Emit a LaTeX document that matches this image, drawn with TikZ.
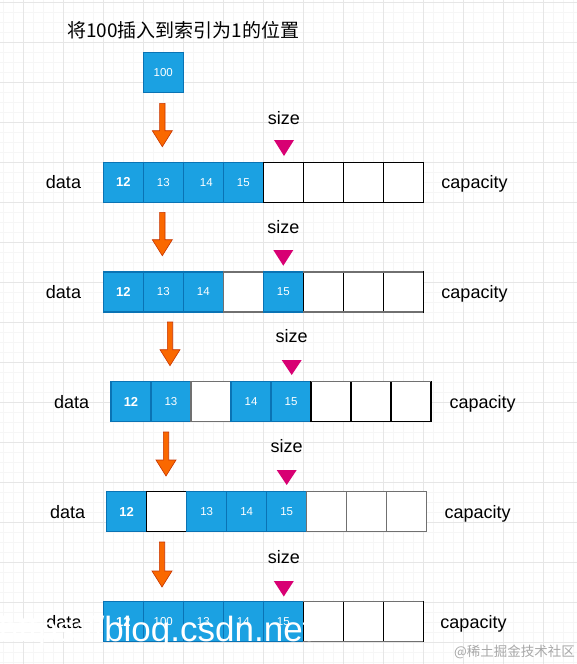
\documentclass[tikz,border=0pt]{standalone}
\usepackage{fontspec}
\setmainfont{Liberation Sans}
\newfontfamily\cjk{Noto Sans CJK SC}
\definecolor{cellblue}{HTML}{1BA1E2}
\definecolor{cellstroke}{HTML}{0A73B4}
\definecolor{arrowfill}{HTML}{FA6800}
\definecolor{arrowstroke}{HTML}{C73500}
\definecolor{sizemark}{HTML}{D80073}
\definecolor{gridmajor}{HTML}{E6E6E6}
\definecolor{gridminor}{HTML}{F6F6F6}
\definecolor{emptygray}{HTML}{707070}
\definecolor{wmgray}{HTML}{A8A8A8}
\tikzset{
  cell/.style={minimum width=40pt, minimum height=40pt, inner sep=0pt, outer sep=0pt, line width=1.2pt},
  fullcell/.style={cell, fill=cellblue, draw=cellstroke, text=white, font=\fontsize{11.5}{11.5}\selectfont},
  firstcell/.style={fullcell, font=\fontsize{13}{13}\selectfont\bfseries},
  emptycell/.style={cell, fill=white, draw=black},
  graycell/.style={cell, fill=white, draw=emptygray},
  lbl/.style={font=\fontsize{18}{18}\selectfont, inner sep=0pt, text=black, anchor=base},
  sizelbl/.style={lbl},
  marker/.style={fill=sizemark},
  grayedge/.style={draw=emptygray, line width=1.2pt},
}
\newcommand\orangearrow[3]{%
  \filldraw[fill=arrowfill, draw=arrowstroke, line width=0.6pt]
    (#1-2.7,#2) -- (#1+2.7,#2) -- (#1+2.7,#3-16) -- (#1+10,#3-16) -- (#1,#3)
    -- (#1-10,#3-16) -- (#1-2.7,#3-16) -- cycle;}
\newcommand\sizemarker[3]{%
  \fill[marker] (#1-10,#2) -- (#1+10,#2) -- (#1,#3) -- cycle;}
\begin{document}
\begin{tikzpicture}[x=1pt, y=-1pt]
\useasboundingbox (0,0) rectangle (577,664);
\fill[white] (0,0) rectangle (577,664);
% background grid
\foreach \gx in {3.3,13.3,...,577} \draw[gridminor, line width=0.8pt] (\gx,0) -- (\gx,664);
\foreach \gy in {2.3,12.3,...,664} \draw[gridminor, line width=0.8pt] (0,\gy) -- (577,\gy);
\foreach \gx in {23.3,63.3,...,577} \draw[gridmajor, line width=0.9pt] (\gx,0) -- (\gx,664);
\foreach \gy in {2.3,42.3,...,664} \draw[gridmajor, line width=0.9pt] (0,\gy) -- (577,\gy);

% title
\node[anchor=west, inner sep=0pt, font=\cjk\fontsize{19}{19}\selectfont] (title) at (67,30) {将100插入到索引为1的位置};
% element to insert
\node[fullcell] (new) at (163.3,72.3) {100};

% ---------- row 1 ----------
\node[firstcell] (r1c1) at (123.3,182.3) {12};
\node[fullcell]  (r1c2) at (163.3,182.3) {13};
\node[fullcell]  (r1c3) at (203.3,182.3) {\hspace{6pt}14};
\node[fullcell]  (r1c4) at (243.3,182.3) {15};
\node[emptycell] (r1c5) at (283.3,182.3) {};
\node[emptycell] (r1c6) at (323.3,182.3) {};
\node[emptycell] (r1c7) at (363.3,182.3) {};
\node[emptycell] (r1c8) at (403.3,182.3) {};
\node[lbl] (r1data) at (63.5,188.9) {data};
\node[lbl] (r1cap) at (474.5,188.9) {capacity};
\node[sizelbl] (r1size) at (284,124.3) {size};
\sizemarker{284}{140}{156}
\orangearrow{162.3}{103.3}{146.7}

% ---------- row 2 ----------
\node[firstcell] (r2c1) at (123.3,292) {12};
\node[fullcell]  (r2c2) at (163.3,292) {13};
\node[fullcell]  (r2c3) at (203.3,292) {14};
\node[graycell]  (r2c4) at (243.3,292) {};
\node[fullcell]  (r2c5) at (283.3,292) {15};
\node[emptycell] (r2c6) at (323.3,292) {};
\node[emptycell] (r2c7) at (363.3,292) {};
\node[emptycell] (r2c8) at (403.3,292) {};
\draw[grayedge] (r2c6.north west) -- (r2c8.north east);
\draw[grayedge] (r2c6.south west) -- (r2c8.south east);
\node[lbl] (r2data) at (63.5,298.6) {data};
\node[lbl] (r2cap) at (474.5,298.6) {capacity};
\node[sizelbl] (r2size) at (283.3,233.3) {size};
\sizemarker{283.3}{250}{265.7}
\orangearrow{162.3}{212.3}{255.7}

% ---------- row 3 ----------
\node[firstcell] (r3c1) at (131,401.7) {12};
\node[fullcell]  (r3c2) at (171,401.7) {13};
\node[graycell]  (r3c3) at (211,401.7) {};
\node[fullcell]  (r3c4) at (251,401.7) {14};
\node[fullcell]  (r3c5) at (291,401.7) {15};
\node[emptycell] (r3c6) at (331,401.7) {};
\node[emptycell] (r3c7) at (371,401.7) {};
\node[emptycell] (r3c8) at (411,401.7) {};
\draw[grayedge] (r3c6.north west) -- (r3c8.north east);
\node[lbl] (r3data) at (71.7,408.3) {data};
\node[lbl] (r3cap) at (482.7,408.3) {capacity};
\node[sizelbl] (r3size) at (291.7,342.7) {size};
\sizemarker{291.7}{360}{375}
\orangearrow{170}{322}{365.7}

% ---------- row 4 ----------
\node[firstcell] (r4c1) at (126.7,511.7) {12};
\node[emptycell] (r4c2) at (166.7,511.7) {};
\node[fullcell]  (r4c3) at (206.7,511.7) {13};
\node[fullcell]  (r4c4) at (246.7,511.7) {14};
\node[fullcell]  (r4c5) at (286.7,511.7) {15};
\node[graycell]  (r4c6) at (326.7,511.7) {};
\node[graycell]  (r4c7) at (366.7,511.7) {};
\node[graycell]  (r4c8) at (406.7,511.7) {};
\node[lbl] (r4data) at (67.7,518.3) {data};
\node[lbl] (r4cap) at (477.7,518.3) {capacity};
\node[sizelbl] (r4size) at (286.7,452.7) {size};
\sizemarker{286.7}{470}{485}
\orangearrow{166}{432}{476}

% ---------- row 5 ----------
\node[firstcell] (r5c1) at (123.3,621.7) {12};
\node[fullcell]  (r5c2) at (163.3,621.7) {100};
\node[fullcell]  (r5c3) at (203.3,621.7) {13};
\node[fullcell]  (r5c4) at (243.3,621.7) {14};
\node[fullcell]  (r5c5) at (283.3,621.7) {15};
\node[emptycell] (r5c6) at (323.3,621.7) {};
\node[emptycell] (r5c7) at (363.3,621.7) {};
\node[emptycell] (r5c8) at (403.3,621.7) {};
\draw[grayedge] (r5c6.north west) -- (r5c8.north east);
\draw[grayedge] (r5c6.south west) -- (r5c8.south east);
\node[lbl] (r5data) at (64,628.3) {data};
\node[lbl] (r5cap) at (473.5,628.3) {capacity};
\node[sizelbl] (r5size) at (283.8,563) {size};
\sizemarker{283.8}{581}{596.5}
\orangearrow{162}{542}{587}

% watermarks
\node[anchor=base west, inner sep=0pt, text=white, font=\fontsize{35}{35}\selectfont] (wm1) at (-1,641.7) {https://blog.csdn.net};
\node[anchor=east, inner sep=0pt, text=wmgray, font=\cjk\fontsize{13.5}{13.5}\selectfont] (wm2) at (575,652) {@稀土掘金技术社区};
\end{tikzpicture}
\end{document}
